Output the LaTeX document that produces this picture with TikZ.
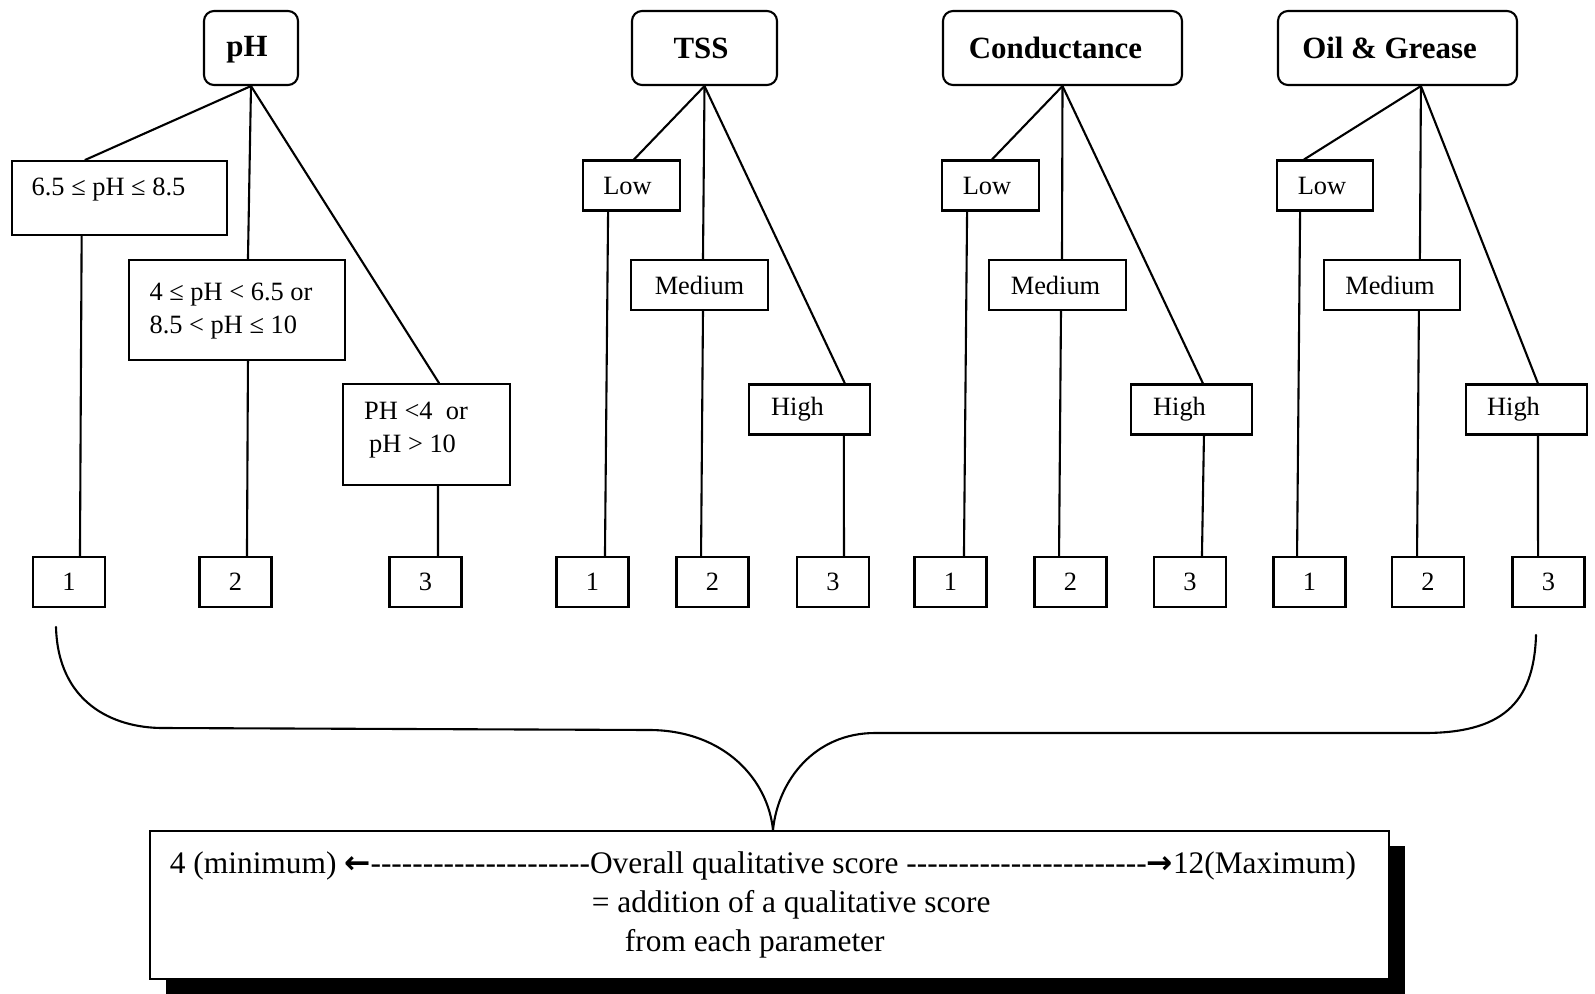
\documentclass[tikz,border=0pt]{standalone}
\usepackage{fontspec}
\setmainfont{Liberation Serif}[Ligatures=TeXOff]
\newfontfamily\arrowfont{DejaVu Sans}
\usetikzlibrary{shadows}
\tikzset{
  title/.style={draw, rounded corners=10bp, line width=2.1bp, inner sep=0pt,
    minimum height=74bp, font=\fontsize{31}{36}\selectfont\bfseries},
  rbox/.style={draw, line width=2.1bp, inner sep=0pt, fill=white,
    font=\fontsize{26.5}{33}\selectfont},
  lvl/.style={rbox, minimum height=50bp},
  score/.style={rbox, minimum width=72bp, minimum height=50bp},
  conn/.style={line width=2.1bp, line cap=round, line join=round},
}
\begin{document}
\begin{tikzpicture}[x=1bp, y=-1bp]
\useasboundingbox (0,0) rectangle (1595,993);

% ---------- titles
\node[title, minimum width=94bp]  (ph)   at (251,48)    {\raisebox{-2bp}[\height][\depth]{pH}\kern8bp};
\node[title, minimum width=145bp] (tss)  at (704.5,48)  {TSS\kern7bp};
\node[title, minimum width=239bp] (cond) at (1062.5,48) {Conductance\kern14bp};
\node[title, minimum width=239bp] (oil)  at (1397.5,48) {Oil \& Grease\kern16bp};

% ---------- pH classes
\node[rbox, minimum width=215bp, minimum height=74bp] (b1) at (119.5,198)
  {\raisebox{8bp}[\height][\depth]{6.5 ≤ pH ≤ 8.5}\kern22bp};
\node[rbox, minimum width=216bp, minimum height=100bp] (b2) at (237,310)
  {\begin{tabular}{@{}l@{}}4 ≤ pH < 6.5 or\\ 8.5 < pH ≤ 10\end{tabular}\kern12bp};
\node[rbox, minimum width=167bp, minimum height=101bp] (b3) at (426.5,434.5)
  {\raisebox{5bp}[\height][\depth]{\begin{tabular}{@{}l@{}}PH <4\ \ or\\ \hspace*{5bp}pH > 10\end{tabular}}\kern21bp};

% ---------- TSS classes
\node[lvl, minimum width=97bp]  (tl) at (631.5,185.5) {Low\kern8bp};
\node[lvl, minimum width=137bp] (tm) at (699.5,285)   {Medium};
\node[lvl, minimum width=121bp] (th) at (809.5,409.5) {High\kern24bp};
% ---------- Conductance classes
\node[lvl, minimum width=97bp]  (cl) at (990.5,185.5) {Low\kern7bp};
\node[lvl, minimum width=137bp] (cm) at (1057.5,285)  {Medium\kern4bp};
\node[lvl, minimum width=121bp] (ch) at (1191.5,409.5){High\kern24bp};
% ---------- Oil & Grease classes
\node[lvl, minimum width=96bp]  (ol) at (1325,185.5)  {Low\kern6bp};
\node[lvl, minimum width=136bp] (om) at (1392,285)    {Medium\kern4bp};
\node[lvl, minimum width=121bp] (oh) at (1526.5,409.5){High\kern26bp};

% ---------- scores
\node[score] (p1) at (69,582)     {1};
\node[score] (p2) at (235.5,582)  {2};
\node[score] (p3) at (425.5,582)  {3};
\node[score] (t1) at (592.5,582)  {1};
\node[score] (t2) at (712.5,582)  {2};
\node[score] (t3) at (833,582)    {3};
\node[score] (c1) at (950.5,582)  {1};
\node[score] (c2) at (1070.5,582) {2};
\node[score] (c3) at (1190,582)   {3};
\node[score] (o1) at (1309.5,582) {1};
\node[score] (o2) at (1428,582)   {2};
\node[score] (o3) at (1548.5,582) {3};

% ---------- pH connectors
\draw[conn] (ph.south) -- ([xshift=-34.5]b1.north);
\draw[conn] (ph.south) -- ([xshift=11]b2.north);
\draw[conn] (ph.south) -- ([xshift=12.5]b3.north);
\draw[conn] ([xshift=-38]b1.south) -- ([xshift=11]p1.north);
\draw[conn] ([xshift=11]b2.south) -- ([xshift=11.5]p2.north);
\draw[conn] ([xshift=11.5]b3.south) -- ([xshift=12.5]p3.north);
% ---------- TSS connectors
\draw[conn] (tss.south) -- ([xshift=2.5]tl.north);
\draw[conn] (tss.south) -- ([xshift=3.5]tm.north);
\draw[conn] (tss.south) -- ([xshift=35.5]th.north);
\draw[conn] ([xshift=-23.5]tl.south) -- ([xshift=12.5]t1.north);
\draw[conn] ([xshift=3.5]tm.south) -- ([xshift=-11.5]t2.north);
\draw[conn] ([xshift=34.5]th.south) -- ([xshift=11]t3.north);
% ---------- Conductance connectors
\draw[conn] (cond.south) -- ([xshift=1.5]cl.north);
\draw[conn] (cond.south) -- ([xshift=4.5]cm.north);
\draw[conn] (cond.south) -- ([xshift=11.5]ch.north);
\draw[conn] ([xshift=-23.5]cl.south) -- ([xshift=13.5]c1.north);
\draw[conn] ([xshift=3.5]cm.south) -- ([xshift=-11.5]c2.north);
\draw[conn] ([xshift=12.5]ch.south) -- ([xshift=12]c3.north);
% ---------- Oil & Grease connectors
\draw[conn] ([xshift=23.5]oil.south) -- ([xshift=-21]ol.north);
\draw[conn] ([xshift=23.5]oil.south) -- ([xshift=28]om.north);
\draw[conn] ([xshift=23.5]oil.south) -- ([xshift=11.5]oh.north);
\draw[conn] ([xshift=-25]ol.south) -- ([xshift=-12.5]o1.north);
\draw[conn] ([xshift=27]om.south) -- ([xshift=-11]o2.north);
\draw[conn] ([xshift=11.5]oh.south) -- ([xshift=-10.5]o3.north);

% ---------- summary box
\node[rbox, minimum width=1239bp, minimum height=148bp, align=left,
      font=\fontsize{31.5}{39.5}\selectfont,
      drop shadow={shadow xshift=16bp, shadow yshift=-15bp, fill=black, opacity=1}]
  (sum) at (769.5,905)
  {4 (minimum) {\arrowfont\bfseries ←}---------------------Overall qualitative score -----------------------{\arrowfont\bfseries →}12(Maximum)\hspace*{13bp}\\
   \hspace*{422bp}= addition of a qualitative score\\
   \hspace*{455bp}from each parameter};

% ---------- brace
\coordinate (bl) at (56,627);
\coordinate (br) at (1536,635);
\draw[conn] (bl) .. controls (58,702) and (112,728) .. (163,728) -- (651,730)
  .. controls (725,731) and (768,780) .. ([xshift=3.5]sum.north);
\draw[conn] ([xshift=3.5]sum.north) .. controls (778,780) and (815,733) .. (875,733)
  -- (1424,733) .. controls (1500,733) and (1534,705) .. (br);
\end{tikzpicture}
\end{document}
